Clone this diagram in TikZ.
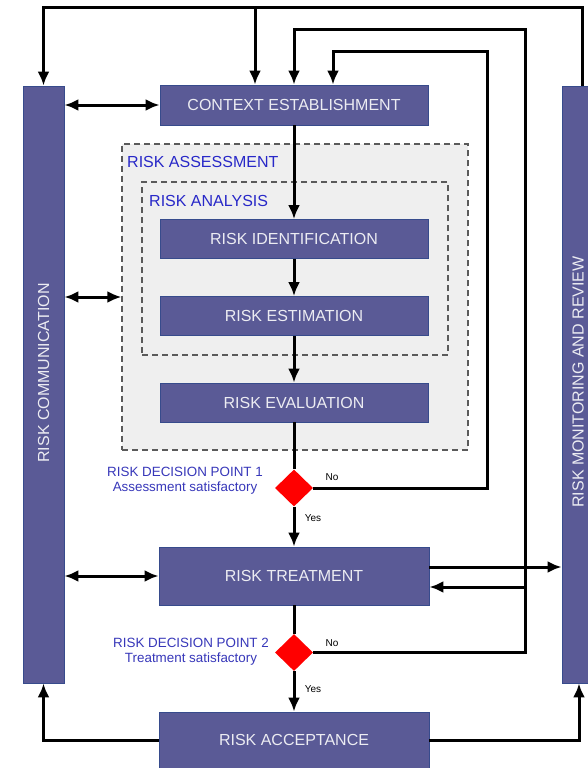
\documentclass[tikz,border=0pt]{standalone}
\usepackage{fontspec}
\setmainfont{Liberation Sans}
\usetikzlibrary{arrows.meta,shapes.geometric}
\definecolor{boxblue}{RGB}{90,90,150}
\definecolor{boxedge}{RGB}{55,75,140}
\definecolor{boxtext}{RGB}{236,236,242}
\definecolor{labelblue}{RGB}{40,40,200}
\definecolor{dpblue}{RGB}{55,55,185}
\definecolor{areagray}{RGB}{239,239,239}
\definecolor{dashgray}{RGB}{90,90,90}

\begin{document}
\begin{tikzpicture}[x=1pt,y=-1pt]
        \tikzstyle{phase}=[draw=boxedge, line width=0.8pt, fill=boxblue, text=boxtext, minimum width=268pt, minimum height=39pt, inner sep=0pt, font=\fontsize{16}{19}\selectfont]
        \tikzstyle{bar}=[draw=boxedge, line width=0.8pt, fill=boxblue, inner sep=0pt, minimum height=597pt]
        \tikzstyle{barlabel}=[rotate=90, inner sep=0pt, text=boxtext, font=\fontsize{16}{19}\selectfont]
        \tikzstyle{area}=[draw=dashgray, line width=1.2pt, dash pattern=on 6pt off 4pt, inner sep=0pt]
        \tikzstyle{arealabel}=[anchor=west, inner sep=0pt, text=labelblue, font=\fontsize{16}{19}\selectfont]
        \tikzstyle{decision}=[diamond, fill=red, inner sep=0pt, minimum width=38pt, minimum height=37pt]
        \tikzstyle{dplabel}=[anchor=east, align=center, inner sep=0pt, text=dpblue, font=\fontsize{13.4}{15.5}\selectfont]
        \tikzstyle{answer}=[inner sep=0pt, font=\fontsize{10}{12}\selectfont]
        \tikzstyle{line}=[line width=3pt]
        \tikzstyle{arr}=[line, -{Latex[length=14pt,width=12pt]}]
        \tikzstyle{dbl}=[line, {Latex[length=14pt,width=12pt]}-{Latex[length=14pt,width=12pt]}]

        \clip (0,0) rectangle (588,768);

        \node[area, fill=areagray, minimum width=346pt, minimum height=306pt] (assess) at (295,297) {};
        \node[arealabel] (assesslbl) at (127,162) {RISK ASSESSMENT};
        \node[area, minimum width=306pt, minimum height=173pt] (analysis) at (295,268.5) {};
        \node[arealabel] (analysislbl) at (149,200.5) {RISK ANALYSIS};

        \node[phase, minimum height=40pt] (ce) at (294,105) {CONTEXT ESTABLISHMENT};
        \node[phase] (ident) at (294,239) {RISK IDENTIFICATION};
        \node[phase] (estim) at (294,316) {RISK ESTIMATION};
        \node[phase] (evalu) at (294,402.5) {RISK EVALUATION};
        \node[decision] (dp1) at (294,488) {};
        \node[phase, minimum width=270pt, minimum height=58pt] (treat) at (294,576) {RISK TREATMENT};
        \node[decision] (dp2) at (294,652.5) {};
        \node[phase, minimum width=270pt, minimum height=56pt] (accept) at (294,740) {RISK ACCEPTANCE};

        \node[bar, minimum width=41pt] (comm) at (43.5,384.5) {};
        \node[barlabel] (commlbl) at (43.5,373) {RISK COMMUNICATION};
        \node[bar, minimum width=34pt] (monit) at (579,384.5) {};
        \node[barlabel] (monitlbl) at (578,382) {RISK MONITORING AND REVIEW};

        \node[dplabel] (dp1lbl) at (263,480.5) {RISK DECISION POINT 1\\Assessment satisfactory};
        \node[dplabel] (dp2lbl) at (269,651.5) {RISK DECISION POINT 2\\Treatment satisfactory};
        \node[answer] (no1) at (332,477) {No};
        \node[answer] (yes1) at (313,518) {Yes};
        \node[answer] (no2) at (332,643) {No};
        \node[answer] (yes2) at (313,689) {Yes};

        \coordinate (loop0) at (582,8);
        \coordinate (loop1) at (487,52);
        \coordinate (loop2) at (525,30);
        \coordinate (cein) at ([xshift=-39pt]ce.north);
        \coordinate (backin) at ([yshift=-11pt]treat.east);
        \coordinate (monout) at ([yshift=9pt]treat.east);

        \draw[dbl] (comm.east |- ce.west) -- (ce.west);
        \draw[dbl] (comm.east |- assess.west) -- (assess.west);
        \draw[dbl] (comm.east |- treat.west) -- (treat.west);

        \draw[arr] (ce) -- (ident);
        \draw[arr] (ident) -- (estim);
        \draw[arr] (estim) -- (evalu);
        \draw[line] (evalu) -- (dp1);
        \draw[arr] (dp1) -- (treat);
        \draw[line] (treat) -- (dp2);
        \draw[arr] (dp2) -- (accept);

        \draw[arr] (dp1.east) -| (loop1) -| ([xshift=39pt]ce.north);
        \draw[arr] (dp2.east) -| (loop2) -| (ce.north);
        \draw[arr] (backin -| loop2) -- (backin);
        \draw[arr] (monout) -- (monout -| monit.west);

        \draw[arr] (loop0 |- monit.north) -- (loop0) -| (comm.north);
        \draw[arr] (cein |- loop0) -- (cein);
        \draw[arr] (accept.west) -| (comm.south);
        \draw[arr] (accept.east) -| (monit.south);
\end{tikzpicture}
\end{document}
